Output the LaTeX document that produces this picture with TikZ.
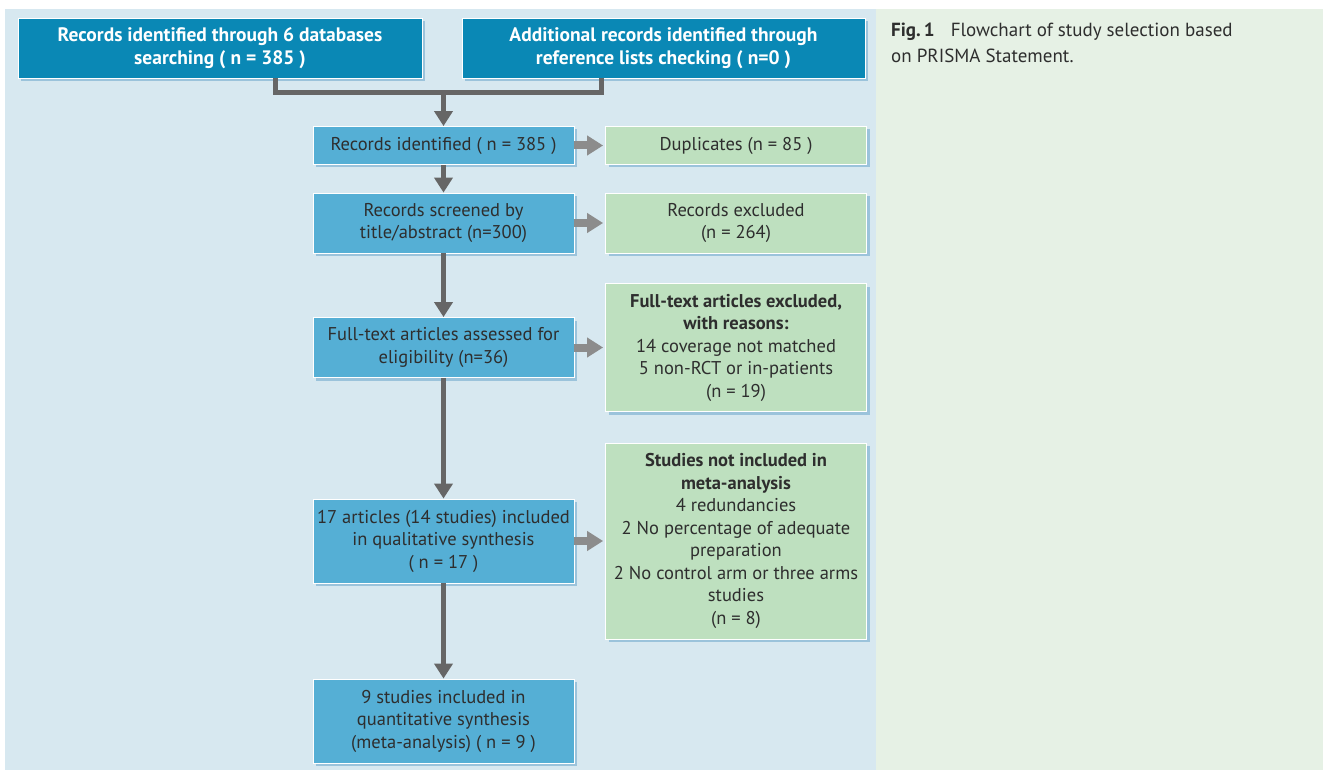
\documentclass[tikz,border=0pt]{standalone}
\usepackage{fontspec}
\setmainfont{PT Sans}
\usetikzlibrary{arrows.meta,shadows}
\definecolor{panelblue}{HTML}{D7E8F0}
\definecolor{panelgreen}{HTML}{E6F1E5}
\definecolor{darkbox}{HTML}{0A88B5}
\definecolor{midbox}{HTML}{55AFD5}
\definecolor{greenfill}{HTML}{BEE0BF}
\definecolor{shadowc}{HTML}{8DBAD6}
\definecolor{arrowdark}{HTML}{666666}
\definecolor{arrowlight}{HTML}{8C8C8C}
\definecolor{textc}{HTML}{2E2E2E}
\tikzset{
  box/.style={draw=white, line width=0.8pt, inner sep=1pt, align=center, text=textc,
    font=\fontsize{18.5}{22.5}\selectfont,
    drop shadow={shadow xshift=3pt, shadow yshift=-3pt, fill=shadowc, opacity=0.8}},
  topbox/.style={box, fill=darkbox, text=white, font=\fontsize{19.5}{23}\selectfont\bfseries,
    minimum width=404pt, minimum height=60pt},
  bluebox/.style={box, fill=midbox, minimum width=261pt},
  greenbox/.style={box, fill=greenfill, minimum width=261pt},
  conn/.style={draw=arrowdark, line width=5pt},
  darr/.style={draw=arrowdark, line width=5pt, -{Triangle[width=18pt,length=15pt]}},
  larr/.style={draw=arrowlight, line width=8pt, -{Triangle[width=19pt,length=16pt]}, shorten >=2pt},
  captext/.style={anchor=base west, text=textc, font=\fontsize{19}{26}\selectfont, inner sep=0pt}
}
\begin{document}
\begin{tikzpicture}[x=1pt,y=-1pt]
\useasboundingbox (0,0) rectangle (1323,770);
\fill[white] (0,0) rectangle (1323,770);
\fill[panelblue] (5,9) rectangle (876,770);
\fill[panelgreen] (876,9) rectangle (1323,770);

\node[topbox] (b1) at (220,48) {Records identified through 6 databases\\searching ( n = 385 )};
\node[topbox, minimum width=403pt] (b2) at (663.5,48) {Additional records identified through\\reference lists checking ( n=0 )};

\node[bluebox, minimum height=38pt] (b3) at (443.5,145.5) {Records identified ( n = 385 )};
\node[greenbox, minimum height=38pt] (g3) at (736,145.5) {Duplicates (n = 85 )};

\node[bluebox, minimum height=60pt] (b4) at (443.5,223) {Records screened by\\title/abstract (n=300)};
\node[greenbox, minimum height=60pt] (g4) at (736,223) {Records excluded\\(n = 264)};

\node[bluebox, minimum height=60pt] (b5) at (443.5,347.5) {Full-text articles assessed for\\eligibility (n=36)};
\node[greenbox, minimum height=128pt] (g5) at (736,347.5) {\textbf{Full-text articles excluded,}\\\textbf{with reasons:}\\14 coverage not matched\\5 non-RCT or in-patients\\(n = 19)};

\node[bluebox, minimum height=84pt] (b6) at (443.5,541) {17 articles (14 studies) included\\in qualitative synthesis\\( n = 17 )};
\node[greenbox, minimum height=196pt] (g6) at (736,541) {\textbf{Studies not included in}\\\textbf{meta-analysis}\\4 redundancies\\2 No percentage of adequate\\preparation\\2 No control arm or three arms\\studies\\(n = 8)};

\node[bluebox, minimum height=84pt] (b7) at (443.5,721) {9 studies included in\\quantitative synthesis\\(meta-analysis) ( n = 9 )};

\coordinate (cl) at (275,92.5);
\coordinate (cr) at (601,92.5);
\coordinate (cm) at (b3.north |- cl);
\draw[conn] (b1.south -| cl) -- (cl) -- (cr) -- (b2.south -| cr);
\draw[darr] (cm) -- (b3.north);
\draw[darr] (b3) -- (b4);
\draw[darr] (b4) -- (b5);
\draw[darr] (b5) -- (b6);
\draw[darr] (b6) -- (b7);
\draw[larr] (b3) -- (g3);
\draw[larr] (b4) -- (g4);
\draw[larr] (b5) -- (g5);
\draw[larr] (b6) -- (g6);

\node[captext] (c1) at (891,37) {\textbf{Fig.\,1}\hspace{16pt}Flowchart of study selection based};
\node[captext] (c2) at (891,63) {on PRISMA Statement.};
\end{tikzpicture}
\end{document}
